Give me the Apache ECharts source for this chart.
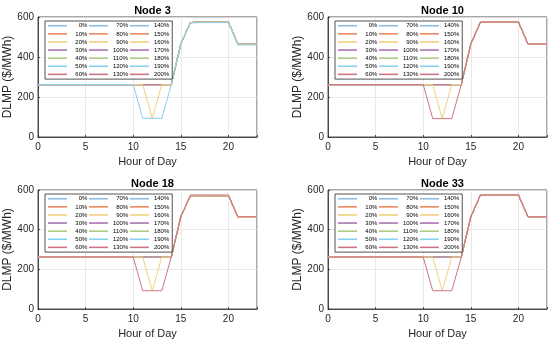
<!DOCTYPE html>
<html>
<head>
<meta charset="utf-8">
<script src="https://cdn.jsdelivr.net/npm/echarts@6/dist/echarts.min.js"></script>
<style>html,body{margin:0;padding:0;background:#fff}#c{width:550px;height:343px}</style>
</head>
<body>
<div id="c"></div>
<script>
// ---- data ----
const hours = [0,1,2,3,4,5,6,7,8,9,10,11,12,13,14,15,16,17,18,19,20,21,22,23];
const pctLabels = ['0%','10%','20%','30%','40%','50%','60%','70%','80%','90%','100%','110%','120%','130%','140%','150%','160%','170%','180%','190%','200%'];
const nodeTitles = ['Node 3','Node 10','Node 18','Node 33'];

// common price profile (most loading levels)
const node3Base  = [262,262,262,262,262,262,262,262,262,262,262,262,262,262,262,465,572,575,575,575,575,463,463,463];
const node3Dip   = [262,262,262,262,262,262,262,262,262,262,262,93,93,93,262,465,570,572,572,572,572,460,460,460];
const node3Vee   = [262,262,262,262,262,262,262,262,262,262,262,262,93,262,262,465,572,575,575,575,575,463,463,463];
const node10Base = [262,262,262,262,262,262,262,262,262,262,262,262,262,262,262,465,573,575,575,575,575,465,465,465];
const node10Dip  = [262,262,262,262,262,262,262,262,262,262,262,92,92,92,262,465,573,575,575,575,575,465,465,465];
const node10Vee  = [262,262,262,262,262,262,262,262,262,262,262,262,92,262,262,465,573,575,575,575,575,465,465,465];
const node18Base = [262,262,262,262,262,262,262,262,262,262,262,262,262,262,262,465,570,570,570,570,572,462,462,462];
const node18Dip  = [262,262,262,262,262,262,262,262,262,262,262,92,92,92,262,465,575,575,575,575,575,465,465,465];
const node18Vee  = [262,262,262,262,262,262,262,262,262,262,262,262,92,262,262,465,570,570,570,570,572,462,462,462];
const node33Base = [262,262,262,262,262,262,262,262,262,262,262,262,262,262,262,465,573,575,575,575,575,465,465,465];
const node33Dip  = [262,262,262,262,262,262,262,262,262,262,262,92,92,92,262,465,573,575,575,575,575,465,465,465];
const node33Vee  = [262,262,262,262,262,262,262,262,262,262,262,262,92,262,262,465,573,575,575,575,575,465,465,465];

// which loading level follows which profile, per node
const node3DipSeries  = ['50%'];
const node3VeeSeries  = ['20%'];
const node10DipSeries = ['60%'];
const node10VeeSeries = ['20%'];
const node18DipSeries = ['60%'];
const node18VeeSeries = ['20%'];
const node33DipSeries = ['60%'];
const node33VeeSeries = ['20%'];

const xTicks = [0,5,10,15,20];
const yTicks = [0,200,400,600];

// ---- styling ----
const palette = ['#8dbde3','#e98a60','#f3cf7f','#a974b4','#aacd84','#86d2f1','#cf7482'];
const FONT = 'Liberation Sans, Arial, sans-serif';

const panels = [
  {base:node3Base, dip:node3Dip, vee:node3Vee, dipS:node3DipSeries, veeS:node3VeeSeries},
  {base:node10Base, dip:node10Dip, vee:node10Vee, dipS:node10DipSeries, veeS:node10VeeSeries},
  {base:node18Base, dip:node18Dip, vee:node18Vee, dipS:node18DipSeries, veeS:node18VeeSeries},
  {base:node33Base, dip:node33Dip, vee:node33Vee, dipS:node33DipSeries, veeS:node33VeeSeries}
];
const gridPos = [
  {left:38, top:17, width:219, height:120},
  {left:328, top:17, width:219, height:120},
  {left:38, top:190, width:219, height:119},
  {left:328, top:190, width:219, height:119}
];

const grids = [], xAxes = [], yAxes = [], series = [], titles = [], legends = [];
gridPos.forEach((g, i) => {
  grids.push(Object.assign({show:true, borderColor:'#262626', borderWidth:0.8, backgroundColor:'#fff', containLabel:false}, g));
  titles.push({text: nodeTitles[i], left: g.left + g.width/2, top: g.top - 17, textAlign:'center',
    textStyle:{fontFamily:FONT, fontSize:11, fontWeight:'bold', color:'#000'}});
  xAxes.push({type:'value', gridIndex:i, min:0, max:23, interval:5,
    name:'Hour of Day', nameLocation:'middle', nameGap:19,
    nameTextStyle:{fontFamily:FONT, fontSize:11, color:'#262626'},
    axisLine:{show:true, lineStyle:{color:'#262626', width:0.8}},
    axisTick:{show:true, inside:true, length:2, lineStyle:{color:'#262626', width:0.8}},
    axisLabel:{fontFamily:FONT, fontSize:10, color:'#262626', margin:5,
      formatter: v => xTicks.indexOf(v) >= 0 ? String(v) : ''},
    splitLine:{show:true, lineStyle:{color:'#e3e3e3', width:0.8}}
  });
  yAxes.push({type:'value', gridIndex:i, min:0, max:600, interval:200,
    name:'DLMP ($/MWh)', nameLocation:'middle', nameGap:21,
    nameTextStyle:{fontFamily:FONT, fontSize:12, color:'#262626'},
    axisLine:{show:true, lineStyle:{color:'#262626', width:0.8}},
    axisTick:{show:true, inside:true, length:2, lineStyle:{color:'#262626', width:0.8}},
    axisLabel:{fontFamily:FONT, fontSize:10, color:'#262626', margin:4,
      formatter: v => yTicks.indexOf(v) >= 0 ? String(v) : ''},
    splitLine:{show:true, lineStyle:{color:'#e3e3e3', width:0.8}}
  });
  const p = panels[i];
  pctLabels.forEach((name, k) => {
    let prof = p.base;
    if (p.dipS.indexOf(name) >= 0) prof = p.dip;
    else if (p.veeS.indexOf(name) >= 0) prof = p.vee;
    series.push({type:'line', name:name, xAxisIndex:i, yAxisIndex:i,
      data: hours.map((h, j) => [h, prof[j]]),
      symbol:'none', showSymbol:false, animation:false,
      lineStyle:{width:1, color: palette[k % 7]}, itemStyle:{color: palette[k % 7]},
      z: (p.dipS.indexOf(name) >= 0 || p.veeS.indexOf(name) >= 0) ? 3 : 2
    });
  });
  legends.push({show:true, data:pctLabels, orient:'vertical', left: g.left + 7, top: g.top + 4,
    height:60, padding:[1.5,3,1.5,3], itemGap:1.6, itemWidth:19, itemHeight:1.6,
    icon:'rect',
    backgroundColor:'#fff', borderColor:'#262626', borderWidth:0.8, borderRadius:0,
    selectedMode:false,
    formatter: n => '\u2007'.repeat(Math.max(0, 4 - n.length)) + n,
    textStyle:{fontFamily:FONT, fontSize:6, lineHeight:6.5, color:'#000'}
  });
});

const chart = echarts.init(document.getElementById('c'), null, {renderer:'canvas'});
chart.setOption({
  animation:false,
  backgroundColor:'#fff',
  title: titles, grid: grids, xAxis: xAxes, yAxis: yAxes, legend: legends, series: series
});
</script>
</body>
</html>
